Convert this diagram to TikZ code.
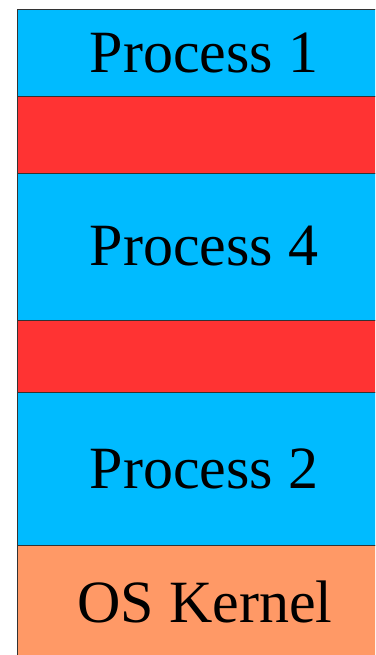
\documentclass[tikz,border=0pt]{standalone}
\usepackage{fontspec}
\setmainfont{Liberation Serif}
\definecolor{pblue}{RGB}{0,187,255}
\definecolor{pred}{RGB}{255,51,51}
\definecolor{porange}{RGB}{255,153,102}
\begin{document}
\begin{tikzpicture}[x=1pt,y=-1pt,
  seg/.style={draw=black!80,line width=0.9pt,inner sep=0pt,outer sep=0pt,font=\fontsize{60}{60}\selectfont},
  proc/.style={seg,fill=pblue},
  hole/.style={seg,fill=pred},
  kern/.style={seg,fill=porange}]
\useasboundingbox (0,0) rectangle (375,655);
\clip (0,0) rectangle (375,655);
\path[proc] (17,9) rectangle (392,96);
\path[hole] (17,96) rectangle (392,173);
\path[proc] (17,173) rectangle (392,320);
\path[hole] (17,320) rectangle (392,392);
\path[proc] (17,392) rectangle (392,545);
\path[kern] (17,545) rectangle (392,660);
\node[font=\fontsize{60}{60}\selectfont] (p1) at (204,53) {Process 1};
\node[font=\fontsize{60}{60}\selectfont] (p4) at (204,246) {Process 4};
\node[font=\fontsize{60}{60}\selectfont] (p2) at (204,469) {Process 2};
\node[font=\fontsize{60}{60}\selectfont] (os) at (205,602) {OS Kernel};
\end{tikzpicture}
\end{document}
